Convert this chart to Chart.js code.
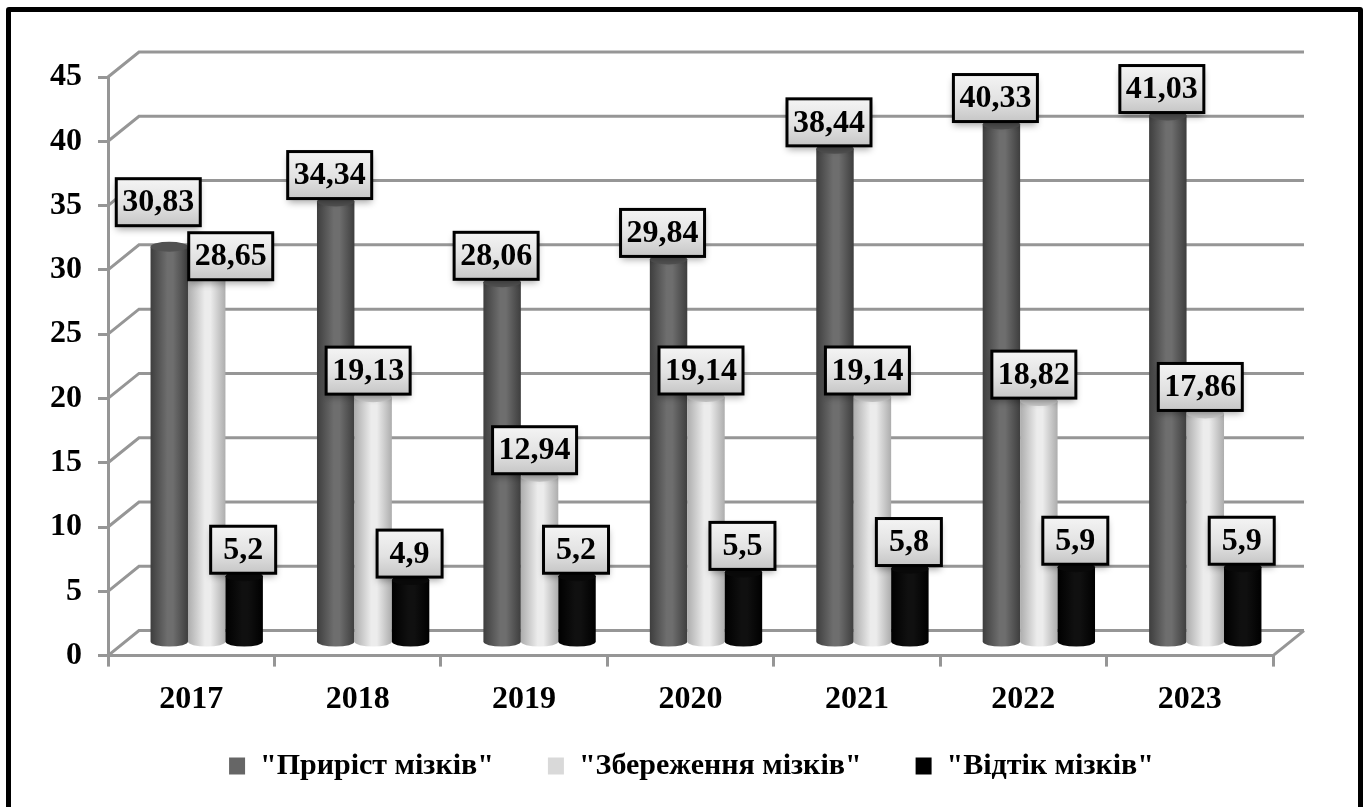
<!DOCTYPE html>
<html>
<head>
<meta charset="utf-8">
<title>Brain gain</title>
<script src="https://cdn.jsdelivr.net/npm/chart.js@4/dist/chart.umd.min.js"></script>
<style>
html, body { margin: 0; padding: 0; background: #fff; overflow: hidden; }
#wrap { position: relative; width: 1367px; height: 807px; overflow: hidden; }
#frame { position: absolute; left: 6px; top: 7px; width: 1347px; height: 820px; border: 5px solid #000; border-radius: 3px; pointer-events: none; }
canvas { position: absolute; left: 0; top: 0; }
</style>
</head>
<body>
<div id="wrap">
<canvas id="chart" width="1367" height="807"></canvas>
<div id="frame"></div>
</div>
<script>
// Data
const years = ['2017', '2018', '2019', '2020', '2021', '2022', '2023'];
const gain = [30.83, 34.34, 28.06, 29.84, 38.44, 40.33, 41.03];
const retention = [28.65, 19.13, 12.94, 19.14, 19.14, 18.82, 17.86];
const drain = [5.2, 4.9, 5.2, 5.5, 5.8, 5.9, 5.9];
const seriesNames = ['"Приріст мізків"', '"Збереження мізків"', '"Відтік мізків"'];

// Fake 3D depth of the plot
const depthX = 31;
const depthY = 25;
const gridColor = '#969696';
const fontName = '"Liberation Serif", serif';
// x labels hang below the axis box, the legend starts right under the ticks
const xAxisTrim = 36;

// colours of each cylinder: edge, centre, top cap
const cylinders = [
    { edge: '#3e3e3e', mid: '#6e6e6e', cap: '#525252' },
    { edge: '#adadad', mid: '#ececec', cap: '#c8c8c8' },
    { edge: '#000000', mid: '#101010', cap: '#0a0a0a' }
];

// data labels sit a little left of the bar, two were moved by hand in the original
const labelShift = [-6, -5, -1];
const movedLabels = { '0-0': [-5, -18], '1-0': [29, 8] };

function drawWalls(chart) {
    const c = chart.ctx;
    const xs = chart.scales.x;
    const ys = chart.scales.y;
    c.save();
    c.strokeStyle = gridColor;
    c.lineWidth = 3;
    ys.ticks.forEach(t => {
        const y = ys.getPixelForValue(t.value);
        c.beginPath();
        c.moveTo(xs.left, y);
        c.lineTo(xs.left + depthX, y - depthY);
        c.lineTo(xs.right + depthX, y - depthY);
        c.stroke();
    });
    // right edge of the floor
    const y0 = ys.getPixelForValue(0);
    c.beginPath();
    c.moveTo(xs.right, y0);
    c.lineTo(xs.right + depthX, y0 - depthY);
    c.stroke();
    c.restore();
}

function drawCylinder(c, bar, look) {
    const w = bar.width;
    const left = bar.x - w / 2 + depthX / 2;
    const right = left + w;
    const cx = left + w / 2;
    const top = bar.y - depthY / 2;
    const bottom = bar.base - depthY / 2;
    const ry = 5;

    const g = c.createLinearGradient(left, 0, right, 0);
    g.addColorStop(0, look.edge);
    g.addColorStop(0.45, look.mid);
    g.addColorStop(0.6, look.mid);
    g.addColorStop(1, look.edge);

    c.save();
    c.fillStyle = g;
    c.beginPath();
    c.moveTo(left, top);
    c.lineTo(left, bottom);
    c.ellipse(cx, bottom, w / 2, ry, 0, Math.PI, 0, true);
    c.lineTo(right, top);
    c.closePath();
    c.fill();
    c.fillStyle = look.cap;
    c.beginPath();
    c.ellipse(cx, top, w / 2, ry, 0, 0, Math.PI * 2);
    c.fill();
    c.restore();
}

function drawLabel(chart, bar, value, ds, idx) {
    const c = chart.ctx;
    const text = String(value).replace('.', ',');
    const boxW = text.length > 3 ? 84 : 65;
    const boxH = 47;
    const moved = movedLabels[ds + '-' + idx] || [0, 0];
    const cx = bar.x + depthX / 2 + labelShift[ds] + moved[0];
    const bottom = bar.y - depthY / 2 - 3 + moved[1];
    const x = cx - boxW / 2;
    const y = bottom - boxH;

    c.save();
    c.shadowColor = 'rgba(0,0,0,0.35)';
    c.shadowBlur = 7;
    c.shadowOffsetY = 4;
    const g = c.createLinearGradient(0, y, 0, y + boxH);
    g.addColorStop(0, '#f4f4f4');
    g.addColorStop(0.55, '#e2e2e2');
    g.addColorStop(1, '#c6c6c6');
    c.fillStyle = g;
    c.fillRect(x, y, boxW, boxH);
    c.shadowColor = 'transparent';
    c.strokeStyle = '#000';
    c.lineWidth = 3;
    c.strokeRect(x, y, boxW, boxH);
    c.fillStyle = '#000';
    c.font = 'bold 32px ' + fontName;
    c.textAlign = 'center';
    c.textBaseline = 'middle';
    c.fillText(text, cx, y + boxH / 2 + 1);
    c.restore();
}

const cylinderPlugin = {
    id: 'cylinders',
    afterLayout(chart) {
        // legend is not centred under the canvas in the original
        chart.legend.left += 38;
        chart.legend.right += 38;
        // give the year labels their room back, otherwise they get clipped
        chart.scales.x.bottom += xAxisTrim;
    },
    beforeDatasetsDraw(chart) {
        drawWalls(chart);
        years.forEach((year, i) => {
            chart.data.datasets.forEach((set, d) => {
                drawCylinder(chart.ctx, chart.getDatasetMeta(d).data[i], cylinders[d]);
            });
        });
        // returning false stops the plain flat bars
        return false;
    },
    afterDraw(chart) {
        chart.data.datasets.forEach((set, d) => {
            chart.getDatasetMeta(d).data.forEach((bar, i) => {
                drawLabel(chart, bar, set.data[i], d, i);
            });
        });
    }
};

new Chart(document.getElementById('chart').getContext('2d'), {
    type: 'bar',
    data: {
        labels: years,
        datasets: [
            { label: seriesNames[0], data: gain, backgroundColor: '#666666' },
            { label: seriesNames[1], data: retention, backgroundColor: '#d9d9d9' },
            { label: seriesNames[2], data: drain, backgroundColor: '#000000' }
        ]
    },
    plugins: [cylinderPlugin],
    options: {
        responsive: false,
        animation: false,
        devicePixelRatio: 1,
        layout: { padding: { left: 34, right: 94, top: 77, bottom: 22 } },
        datasets: { bar: { barPercentage: 1, categoryPercentage: 0.675 } },
        plugins: {
            tooltip: { enabled: false },
            legend: {
                position: 'bottom',
                maxHeight: 88,
                labels: {
                    boxWidth: 16,
                    boxHeight: 17,
                    padding: 54,
                    color: '#000',
                    font: { family: fontName, size: 30, weight: 'bold' }
                }
            }
        },
        scales: {
            x: {
                afterFit(scale) { scale.height -= xAxisTrim; },
                grid: { drawOnChartArea: false, color: gridColor, lineWidth: 3, tickLength: 11, offset: true },
                border: { color: gridColor, width: 3 },
                ticks: { color: '#000', padding: 14, maxRotation: 0, font: { family: fontName, size: 32, weight: 'bold' } }
            },
            y: {
                min: 0,
                max: 45,
                grid: { drawOnChartArea: false, color: gridColor, lineWidth: 3, tickLength: 10 },
                border: { color: gridColor, width: 3 },
                ticks: { stepSize: 5, color: '#000', padding: 16, font: { family: fontName, size: 32, weight: 'bold' } }
            }
        }
    }
});
</script>
</body>
</html>
